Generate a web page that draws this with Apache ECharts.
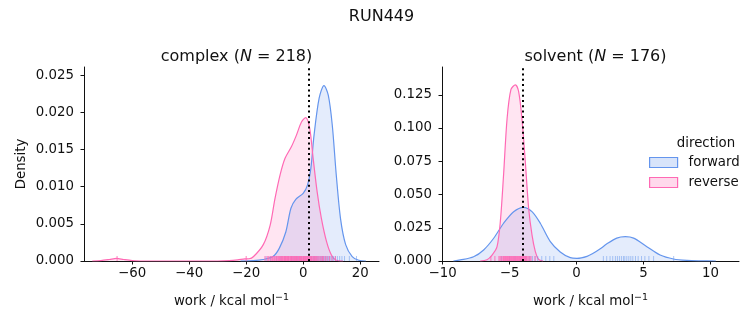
<!DOCTYPE html>
<html>
<head>
<meta charset="utf-8">
<script src="https://cdn.jsdelivr.net/npm/echarts@6/dist/echarts.min.js"></script>
<style>
  html, body { margin: 0; padding: 0; background: #fff; }
  #chart { width: 753px; height: 325px; }
</style>
</head>
<body>
<div id="chart"></div>
<script>
// Kernel density estimates of the work values, [work, density]
const complexForward = [
  [-22, 0], [-17.5, 0.00005], [-14.1, 0.0002], [-10.6, 0.0006], [-8.4, 0.0017], [-6.1, 0.0039],
  [-4.3, 0.0071], [-2.6, 0.0083], [0, 0.0091], [1.5, 0.0102], [2.7, 0.0125],
  [3.8, 0.0169], [5.6, 0.0219], [7.3, 0.0236], [8.8, 0.0223], [10.2, 0.0183],
  [11.6, 0.0116], [13.1, 0.0057], [14.9, 0.0022], [17.2, 0.0006], [19.5, 0.0001], [22, 0]
];
const complexReverse = [
  [-74, 0], [-71, 0.00005], [-68, 0.0002], [-65.5, 0.00035], [-63, 0.0002], [-60, 0.00005],
  [-57, 0], [-30, 0], [-26, 0.00005], [-23, 0.00015], [-20.5, 0.00028], [-19, 0.0003],
  [-17.4, 0.0006], [-14.0, 0.0022], [-11.6, 0.0048], [-9.9, 0.0084], [-8.1, 0.0116],
  [-6.4, 0.0138], [-4.1, 0.0154], [-2.4, 0.0169], [-0.6, 0.0187], [0.9, 0.0193],
  [2.3, 0.0178], [3.5, 0.0138], [4.9, 0.0093], [6.4, 0.0057], [8.2, 0.0026],
  [9.9, 0.0008], [11.6, 0.0001], [14, 0]
];
const solventForward = [
  [-9.2, 0], [-8.68, 0.0008], [-7.69, 0.0032], [-6.94, 0.0083], [-6.19, 0.0171], [-5.45, 0.0284],
  [-4.70, 0.0371], [-3.96, 0.0404], [-3.33, 0.0371], [-2.71, 0.0284], [-1.96, 0.0146],
  [-1.22, 0.0068], [-0.47, 0.0025], [0.03, 0.0020], [0.78, 0.0035], [1.24, 0.0058],
  [1.77, 0.0092], [2.24, 0.0127], [3.0, 0.0172], [3.64, 0.0183], [4.26, 0.0172],
  [5.25, 0.0108], [6.24, 0.0045], [7.24, 0.0015], [8.24, 0.0004], [9.24, 0.0001], [10.4, 0]
];
const solventReverse = [
  [-7.2, 0], [-6.69, 0.001], [-6.31, 0.0045], [-5.94, 0.0108], [-5.69, 0.030], [-5.45, 0.065],
  [-5.19, 0.107], [-4.90, 0.129], [-4.57, 0.1325], [-4.33, 0.1275], [-4.08, 0.107],
  [-3.83, 0.0748], [-3.58, 0.0397], [-3.33, 0.0196], [-3.08, 0.0070], [-2.84, 0.0013], [-2.5, 0]
];

// Individual work samples (rug marks)
const complexForwardRug = [-13.0, -11.5, -9.4, -7.8, -6.5, -5.2, -4.1, -3.3, -2.4, -1.6, -0.8, 0.0,
  0.9, 1.7, 2.4, 3.0, 3.6, 4.1, 4.6, 5.1, 5.5, 6.0, 6.4, 6.8, 7.2, 7.6, 8.0, 8.4, 8.8, 9.2,
  9.7, 10.2, 10.7, 11.3, 12.0, 12.8, 13.6, 14.5, 16.2, 18.7];
const complexReverseRug = [-65.3, -20.0, -13.4, -12.6, -12.1, -11.6, -11.2, -10.8, -10.5, -10.1,
  -9.8, -9.4, -9.1, -8.8, -8.6, -8.3, -8.0, -7.7, -7.5, -7.3, -7.1, -6.8, -6.6, -6.4, -6.2,
  -6.0, -5.8, -5.5, -5.3, -5.1, -4.9, -4.6, -4.4, -4.2, -4.0, -3.8, -3.6, -3.3, -3.1, -2.9,
  -2.7, -2.4, -2.2, -2.0, -1.8, -1.5, -1.3, -1.1, -0.9, -0.6, -0.4, -0.1, 0.1, 0.3, 0.5,
  0.7, 0.9, 1.2, 1.4, 1.6, 1.8, 2.1, 2.3, 2.6, 2.9, 3.1, 3.4, 3.7, 4.0, 4.3, 4.7, 5.1,
  5.5, 5.9, 6.3, 6.8, 7.2, 7.8, 8.4, 9.2, 10.1, 11.3];
const solventForwardRug = [-5.6, -5.0, -4.6, -4.2, -3.8, -3.5, -3.3, -3.1, -2.9, -2.6, -2.3, -2.0,
  -1.7, 2.0, 2.25, 2.5, 2.7, 2.9, 3.05, 3.2, 3.35, 3.5, 3.6, 3.75, 3.9, 4.05, 4.2, 4.4,
  4.6, 4.85, 5.1, 5.4, 5.75, 7.25];
const solventReverseRug = [-6.4, -6.1, -5.8, -5.72, -5.65, -5.58, -5.5, -5.45, -5.4, -5.35, -5.3,
  -5.25, -5.2, -5.15, -5.1, -5.05, -5.0, -4.95, -4.9, -4.85, -4.8, -4.75, -4.7, -4.65, -4.6,
  -4.55, -4.5, -4.45, -4.4, -4.35, -4.3, -4.25, -4.2, -4.15, -4.1, -4.05, -4.0, -3.95, -3.9,
  -3.85, -3.8, -3.75, -3.7, -3.62, -3.55, -3.48, -3.4, -3.1];

// Free energy estimates (dotted lines)
const complexEstimate = 1.9;
const solventEstimate = -4.0;

// Axis ranges and ticks
const complexXRange = [-76.9, 26.6];
const complexYRange = [0, 0.0261];
const solventXRange = [-10.05, 12.13];
const solventYRange = [0, 0.1459];
const complexXTicks = [-60, -40, -20, 0, 20];
const complexYTicks = [0, 0.005, 0.01, 0.015, 0.02, 0.025];
const solventXTicks = [-10, -5, 0, 5, 10];
const solventYTicks = [0, 0.025, 0.05, 0.075, 0.1, 0.125];

const BLUE = '#6495ED';
const PINK = '#FF69B4';
const BLUE_FILL = 'rgba(100,149,237,0.25)';
const PINK_FILL = 'rgba(255,105,180,0.25)';
const FONT = 'DejaVu Sans';
const INK = '#111';

const fmtX = v => (v < 0 ? '\u2212' + Math.abs(v) : String(v));
const fmtY = v => v.toFixed(3);

function xAxisFor(grid, range, ticks) {
  return {
    type: 'value', gridIndex: grid, min: range[0], max: range[1],
    axisLine: { show: true, onZero: false, lineStyle: { color: INK, width: 1 } },
    axisTick: { show: true, length: 3.5, customValues: ticks, lineStyle: { color: INK, width: 1 } },
    axisLabel: { customValues: ticks, formatter: fmtX, fontFamily: FONT, fontSize: 13.33, color: INK, margin: 6 },
    splitLine: { show: false },
    name: 'work / kcal mol{sup|\u22121}',
    nameLocation: 'middle', nameGap: 32,
    nameTextStyle: {
      fontFamily: FONT, fontSize: 13.33, color: INK,
      rich: { sup: { fontFamily: FONT, fontSize: 9.5, color: INK, padding: [0, 0, 8, 0] } }
    }
  };
}
function yAxisFor(grid, range, ticks, name) {
  return {
    type: 'value', gridIndex: grid, min: range[0], max: range[1],
    axisLine: { show: true, onZero: false, lineStyle: { color: INK, width: 1 } },
    axisTick: { show: true, length: 3.5, customValues: ticks, lineStyle: { color: INK, width: 1 } },
    axisLabel: { customValues: ticks, formatter: fmtY, fontFamily: FONT, fontSize: 13.33, color: INK, margin: 10 },
    splitLine: { show: false },
    name: name || '', nameLocation: 'middle', nameGap: 56,
    nameTextStyle: { fontFamily: FONT, fontSize: 13.33, color: INK }
  };
}
function kde(name, grid, data, line, fill, estimate) {
  const s = {
    name: name, type: 'line', xAxisIndex: grid, yAxisIndex: grid, data: data,
    smooth: 0.3, symbol: 'none', showSymbol: false,
    lineStyle: { color: line, width: 1.2 }, itemStyle: { color: line },
    areaStyle: { color: fill, origin: 'start' }, silent: true, z: 2
  };
  if (estimate !== undefined) {
    s.markLine = {
      symbol: 'none', silent: true, label: { show: false }, z: 10,
      lineStyle: { color: '#000', type: [2, 3.3], width: 2 },
      data: [{ xAxis: estimate }]
    };
  }
  return s;
}
function rug(name, grid, values, color, opacity) {
  return {
    name: name, type: 'scatter', xAxisIndex: grid, yAxisIndex: grid,
    data: values.map(v => [v, 0]), symbol: 'rect', symbolSize: [1, 5], symbolOffset: [0, -2.5],
    itemStyle: { color: color, opacity: opacity }, silent: true, z: 3
  };
}

const chart = echarts.init(document.getElementById('chart'), null, { renderer: 'canvas' });
chart.setOption({
  backgroundColor: '#fff',
  animation: false,
  title: [
    { text: 'RUN449', left: 376.5, top: 4, textAlign: 'center',
      textStyle: { fontFamily: FONT, fontSize: 16, fontWeight: 'normal', color: INK } },
    { text: 'complex ({i|N} = 218)', left: 231.5, top: 44, textAlign: 'center',
      textStyle: { fontFamily: FONT, fontSize: 16, fontWeight: 'normal', color: INK,
        rich: { i: { fontFamily: FONT, fontSize: 16, fontStyle: 'italic', color: INK } } } },
    { text: 'solvent ({i|N} = 176)', left: 590.5, top: 44, textAlign: 'center',
      textStyle: { fontFamily: FONT, fontSize: 16, fontWeight: 'normal', color: INK,
        rich: { i: { fontFamily: FONT, fontSize: 16, fontStyle: 'italic', color: INK } } } },
    { text: 'direction', left: 701, top: 132, textAlign: 'center',
      textStyle: { fontFamily: FONT, fontSize: 13.33, fontWeight: 'normal', color: INK } }
  ],
  legend: {
    orient: 'vertical', left: 649, top: 156, padding: 0, itemWidth: 28, itemHeight: 10, itemGap: 7,
    selectedMode: false,
    textStyle: { fontFamily: FONT, fontSize: 13.33, color: INK, padding: [0, 0, 0, 6] },
    data: [
      { name: 'forward', icon: 'rect', itemStyle: { color: BLUE_FILL, borderColor: BLUE, borderWidth: 1.2 } },
      { name: 'reverse', icon: 'rect', itemStyle: { color: PINK_FILL, borderColor: PINK, borderWidth: 1.2 } }
    ]
  },
  grid: [
    { left: 84, right: 374, top: 67, bottom: 64 },
    { left: 442, right: 14, top: 67, bottom: 64 }
  ],
  xAxis: [xAxisFor(0, complexXRange, complexXTicks), xAxisFor(1, solventXRange, solventXTicks)],
  yAxis: [yAxisFor(0, complexYRange, complexYTicks, 'Density'), yAxisFor(1, solventYRange, solventYTicks)],
  series: [
    kde('forward', 0, complexForward, BLUE, BLUE_FILL, complexEstimate),
    kde('reverse', 0, complexReverse, PINK, PINK_FILL),
    rug('forward samples', 0, complexForwardRug, BLUE, 0.5),
    rug('reverse samples', 0, complexReverseRug, PINK, 0.85),
    kde('forward', 1, solventForward, BLUE, BLUE_FILL, solventEstimate),
    kde('reverse', 1, solventReverse, PINK, PINK_FILL),
    rug('forward samples', 1, solventForwardRug, BLUE, 0.5),
    rug('reverse samples', 1, solventReverseRug, PINK, 0.85)
  ]
});
</script>
</body>
</html>
